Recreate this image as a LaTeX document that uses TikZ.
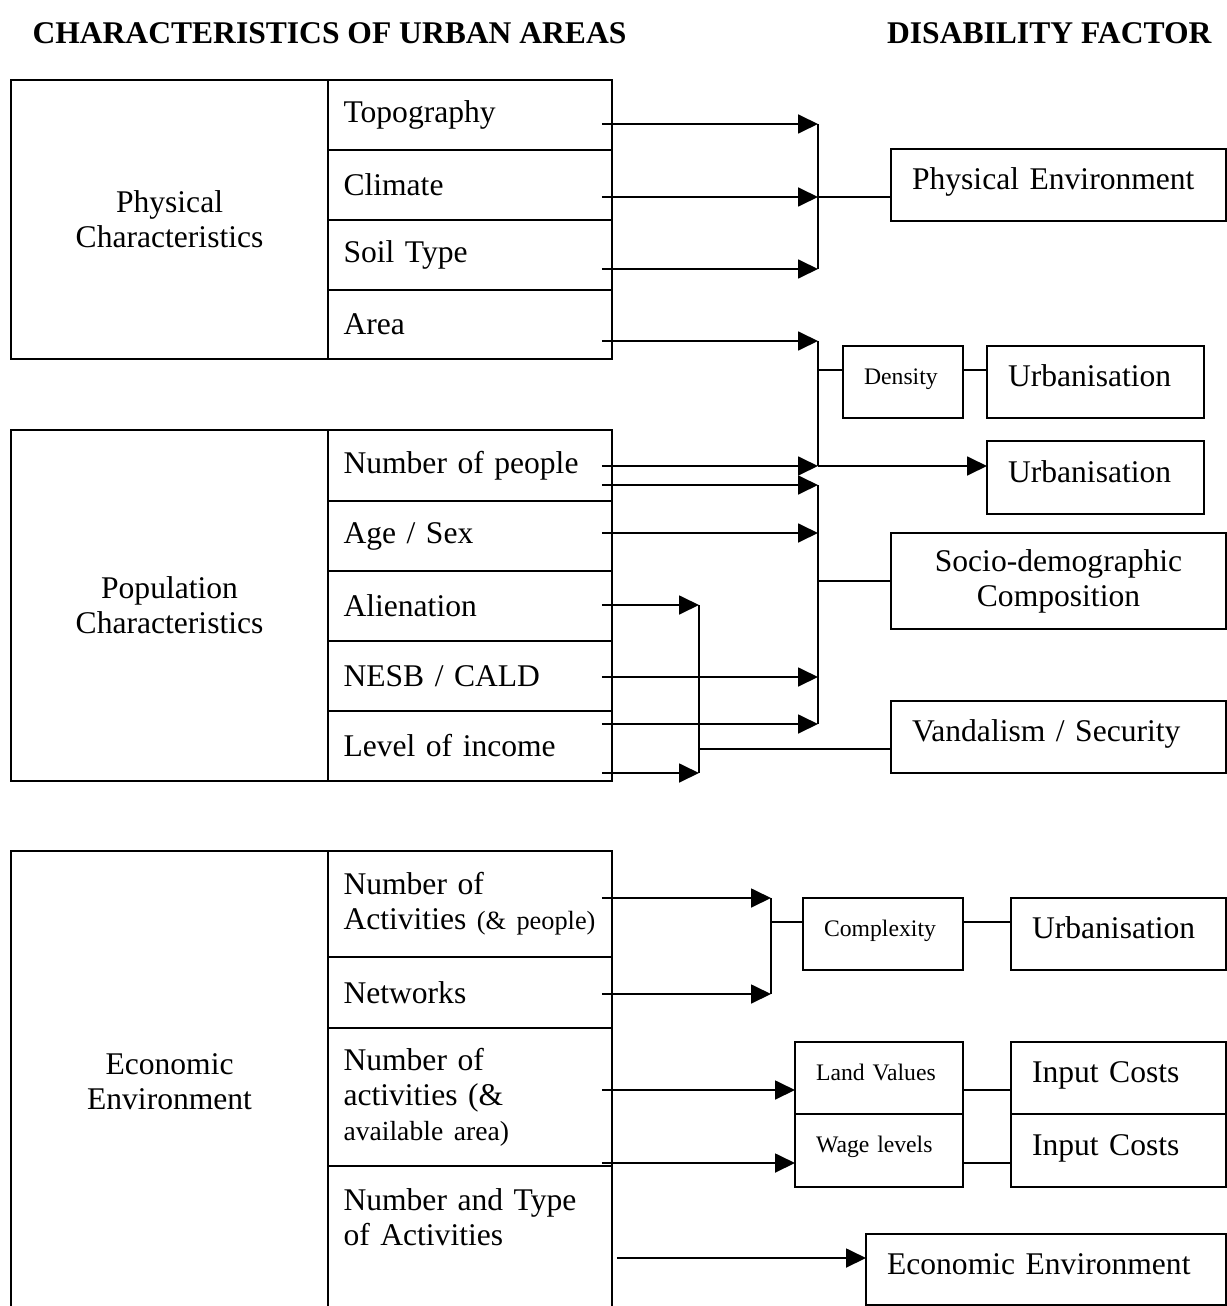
\documentclass[tikz,border=0pt]{standalone}
\usepackage{fontspec}
\setmainfont{Liberation Serif}
\usetikzlibrary{arrows.meta,calc}

\tikzset{
  box/.style={draw, line width=0.75pt, inner sep=0pt, outer sep=0pt,
    font=\fontsize{12}{13.3}\selectfont},
  lblbox/.style={box, anchor=north west, minimum width=120.5pt, minimum height=#1, align=center},
  rowbox/.style={box, anchor=north west, inner xsep=5.9pt, text width=96.1pt, minimum height=#1, align=left},
  rbox/.style 2 args={box, anchor=north west, inner xsep=8pt, text width=#1-16pt,
    minimum height=#2, align=left, text height=8.2pt, text depth=4.5pt},
  sbox/.style 2 args={rbox={#1}{#2}, font=\fontsize{9}{10}\selectfont,
    text height=6.2pt, text depth=4.6pt},
  conn/.style={line width=0.75pt},
  arr/.style={conn, -{Triangle[length=7.6pt,width=7.2pt]}},
  head/.style={font=\fontsize{12}{14}\selectfont\bfseries, inner sep=0pt, anchor=base west},
}

\begin{document}
\begin{tikzpicture}[x=0.38pt, y=-0.38pt]

\useasboundingbox (0,0) rectangle (1227,1306);

% headings
\node[head] (hleft) at (32,44) {CHARACTERISTICS OF URBAN AREAS};
\node[head, anchor=base east] (hright) at (1212,44) {DISABILITY FACTOR};

% physical characteristics
\node[lblbox=106pt] (phys) at (11,80) {Physical\\Characteristics};
\node[rowbox=26.6pt] (topo) at (328,80) {Topography};
\node[rowbox=26.6pt] (clim) at (328,150) {Climate};
\node[rowbox=26.6pt] (soil) at (328,220) {Soil Type};
\node[rowbox=26.2pt] (area) at (328,290) {Area};

% population characteristics
\node[lblbox=133.4pt] (popl) at (11,430) {Population\\Characteristics};
\node[rowbox=27pt] (npeople) at (328,430) {Number of people};
\node[rowbox=26.6pt] (agesex) at (328,501) {Age / Sex};
\node[rowbox=26.6pt] (alien) at (328,571) {Alienation};
\node[rowbox=26.6pt] (nesb) at (328,641) {NESB / CALD};
\node[rowbox=26.6pt] (income) at (328,711) {Level of income};

% economic environment (runs off the page)
\node[lblbox=175.6pt] (econ) at (11,851) {Economic\\Environment};
\node[rowbox=40.3pt] (nact) at (328,851) {Number of\\Activities {\fontsize{10}{13.3}\selectfont(\& people)}};
\node[rowbox=27pt] (netw) at (328,957) {Networks};
\node[rowbox=52.4pt] (nact2) at (328,1028) {Number of\\activities (\&\\{\fontsize{10.5}{13.3}\selectfont available area)}};
\node[rowbox=55.9pt] (ntype) at (328,1166) {Number and Type\\of Activities\\\strut};

% disability factors
\node[rbox={127.3pt}{27.4pt}] (penv) at (891,149) {Physical Environment};
\node[sbox={45.6pt}{27.4pt}] (dens) at (843,346) {Density};
\node[rbox={82.5pt}{27.4pt}] (urb1) at (987,346) {Urbanisation};
\node[rbox={82.5pt}{27.7pt}] (urb2) at (987,441) {Urbanisation};
\node[box, anchor=north west, minimum width=127.3pt, minimum height=36.5pt, align=center] (socio) at (891,533) {Socio-demographic\\Composition};
\node[rbox={127.3pt}{27.4pt}] (vand) at (891,701) {Vandalism / Security};
\node[sbox={60.8pt}{27.4pt}] (cplx) at (803,898) {Complexity};
\node[rbox={81.7pt}{27.4pt}] (urb3) at (1011,898) {Urbanisation};
\node[sbox={63.8pt}{27.4pt}] (land) at (795,1042) {Land Values};
\node[sbox={63.8pt}{27.7pt}] (wage) at (795,1114) {Wage levels};
\node[rbox={81.7pt}{27.4pt}] (inp1) at (1011,1042) {Input Costs};
\node[rbox={81.7pt}{27.7pt}] (inp2) at (1011,1114) {Input Costs};
\node[rbox={136.8pt}{27pt}] (eenv) at (866,1234) {Economic Environment};

% physical -> physical environment, density
\coordinate (p1) at (818,124);
\coordinate (p2) at (818,197);
\coordinate (p3) at (818,269);
\coordinate (p4) at (818,341);
\coordinate (pd) at (818,370);
\coordinate (pj) at (818,466);
\draw[arr] (topo.east |- p1) ++(-10,0) -- (p1);
\draw[arr] (clim.east |- p2) ++(-10,0) -- (p2);
\draw[arr] (soil.east |- p3) ++(-10,0) -- (p3);
\draw[arr] (area.east |- p4) ++(-10,0) -- (p4);
\draw[conn] (p1) -- (p3);
\draw[conn] (p2) -- (penv.west |- p2);
\draw[conn] (p4) -- (pj);
\draw[conn] (pd) -- (dens.west |- pd);
\draw[conn] (dens.east |- pd) -- (urb1.west |- pd);
\draw[arr] (npeople.east |- pj) ++(-10,0) -- (pj);
\draw[arr] (pj) -- (urb2.west |- pj);

% population -> socio-demographic composition
\coordinate (s1) at (818,485);
\coordinate (s2) at (818,533);
\coordinate (sm) at (818,581);
\coordinate (s3) at (818,677);
\coordinate (s4) at (818,724);
\draw[arr] (npeople.east |- s1) ++(-10,0) -- (s1);
\draw[arr] (agesex.east |- s2) ++(-10,0) -- (s2);
\draw[arr] (nesb.east |- s3) ++(-10,0) -- (s3);
\draw[arr] (income.east |- s4) ++(-10,0) -- (s4);
\draw[conn] (s1) -- (s4);
\draw[conn] (sm) -- (socio.west |- sm);

% population -> vandalism
\coordinate (v1) at (699,605);
\coordinate (vm) at (699,749);
\coordinate (v2) at (699,773);
\draw[arr] (alien.east |- v1) ++(-10,0) -- (v1);
\draw[arr] (income.east |- v2) ++(-10,0) -- (v2);
\draw[conn] (v1) -- (v2);
\draw[conn] (vm) -- (vand.west |- vm);

% economic
\coordinate (e1) at (771,898);
\coordinate (em) at (771,922);
\coordinate (e2) at (771,994);
\draw[arr] (nact.east |- e1) ++(-10,0) -- (e1);
\draw[arr] (netw.east |- e2) ++(-10,0) -- (e2);
\draw[conn] (e1) -- (e2);
\draw[conn] (em) -- (cplx.west |- em);
\draw[conn] (cplx.east |- em) -- (urb3.west |- em);

\coordinate (lv) at (0,1090);
\coordinate (wl) at (0,1163);
\coordinate (ee) at (0,1258);
\draw[arr] (nact2.east |- lv) ++(-10,0) -- (land.west |- lv);
\draw[arr] (nact2.east |- wl) ++(-10,0) -- (wage.west |- wl);
\draw[conn] (land.east |- lv) -- (inp1.west |- lv);
\draw[conn] (wage.east |- wl) -- (inp2.west |- wl);
\draw[arr] (ntype.east |- ee) ++(5,0) -- (eenv.west |- ee);

\end{tikzpicture}
\end{document}
